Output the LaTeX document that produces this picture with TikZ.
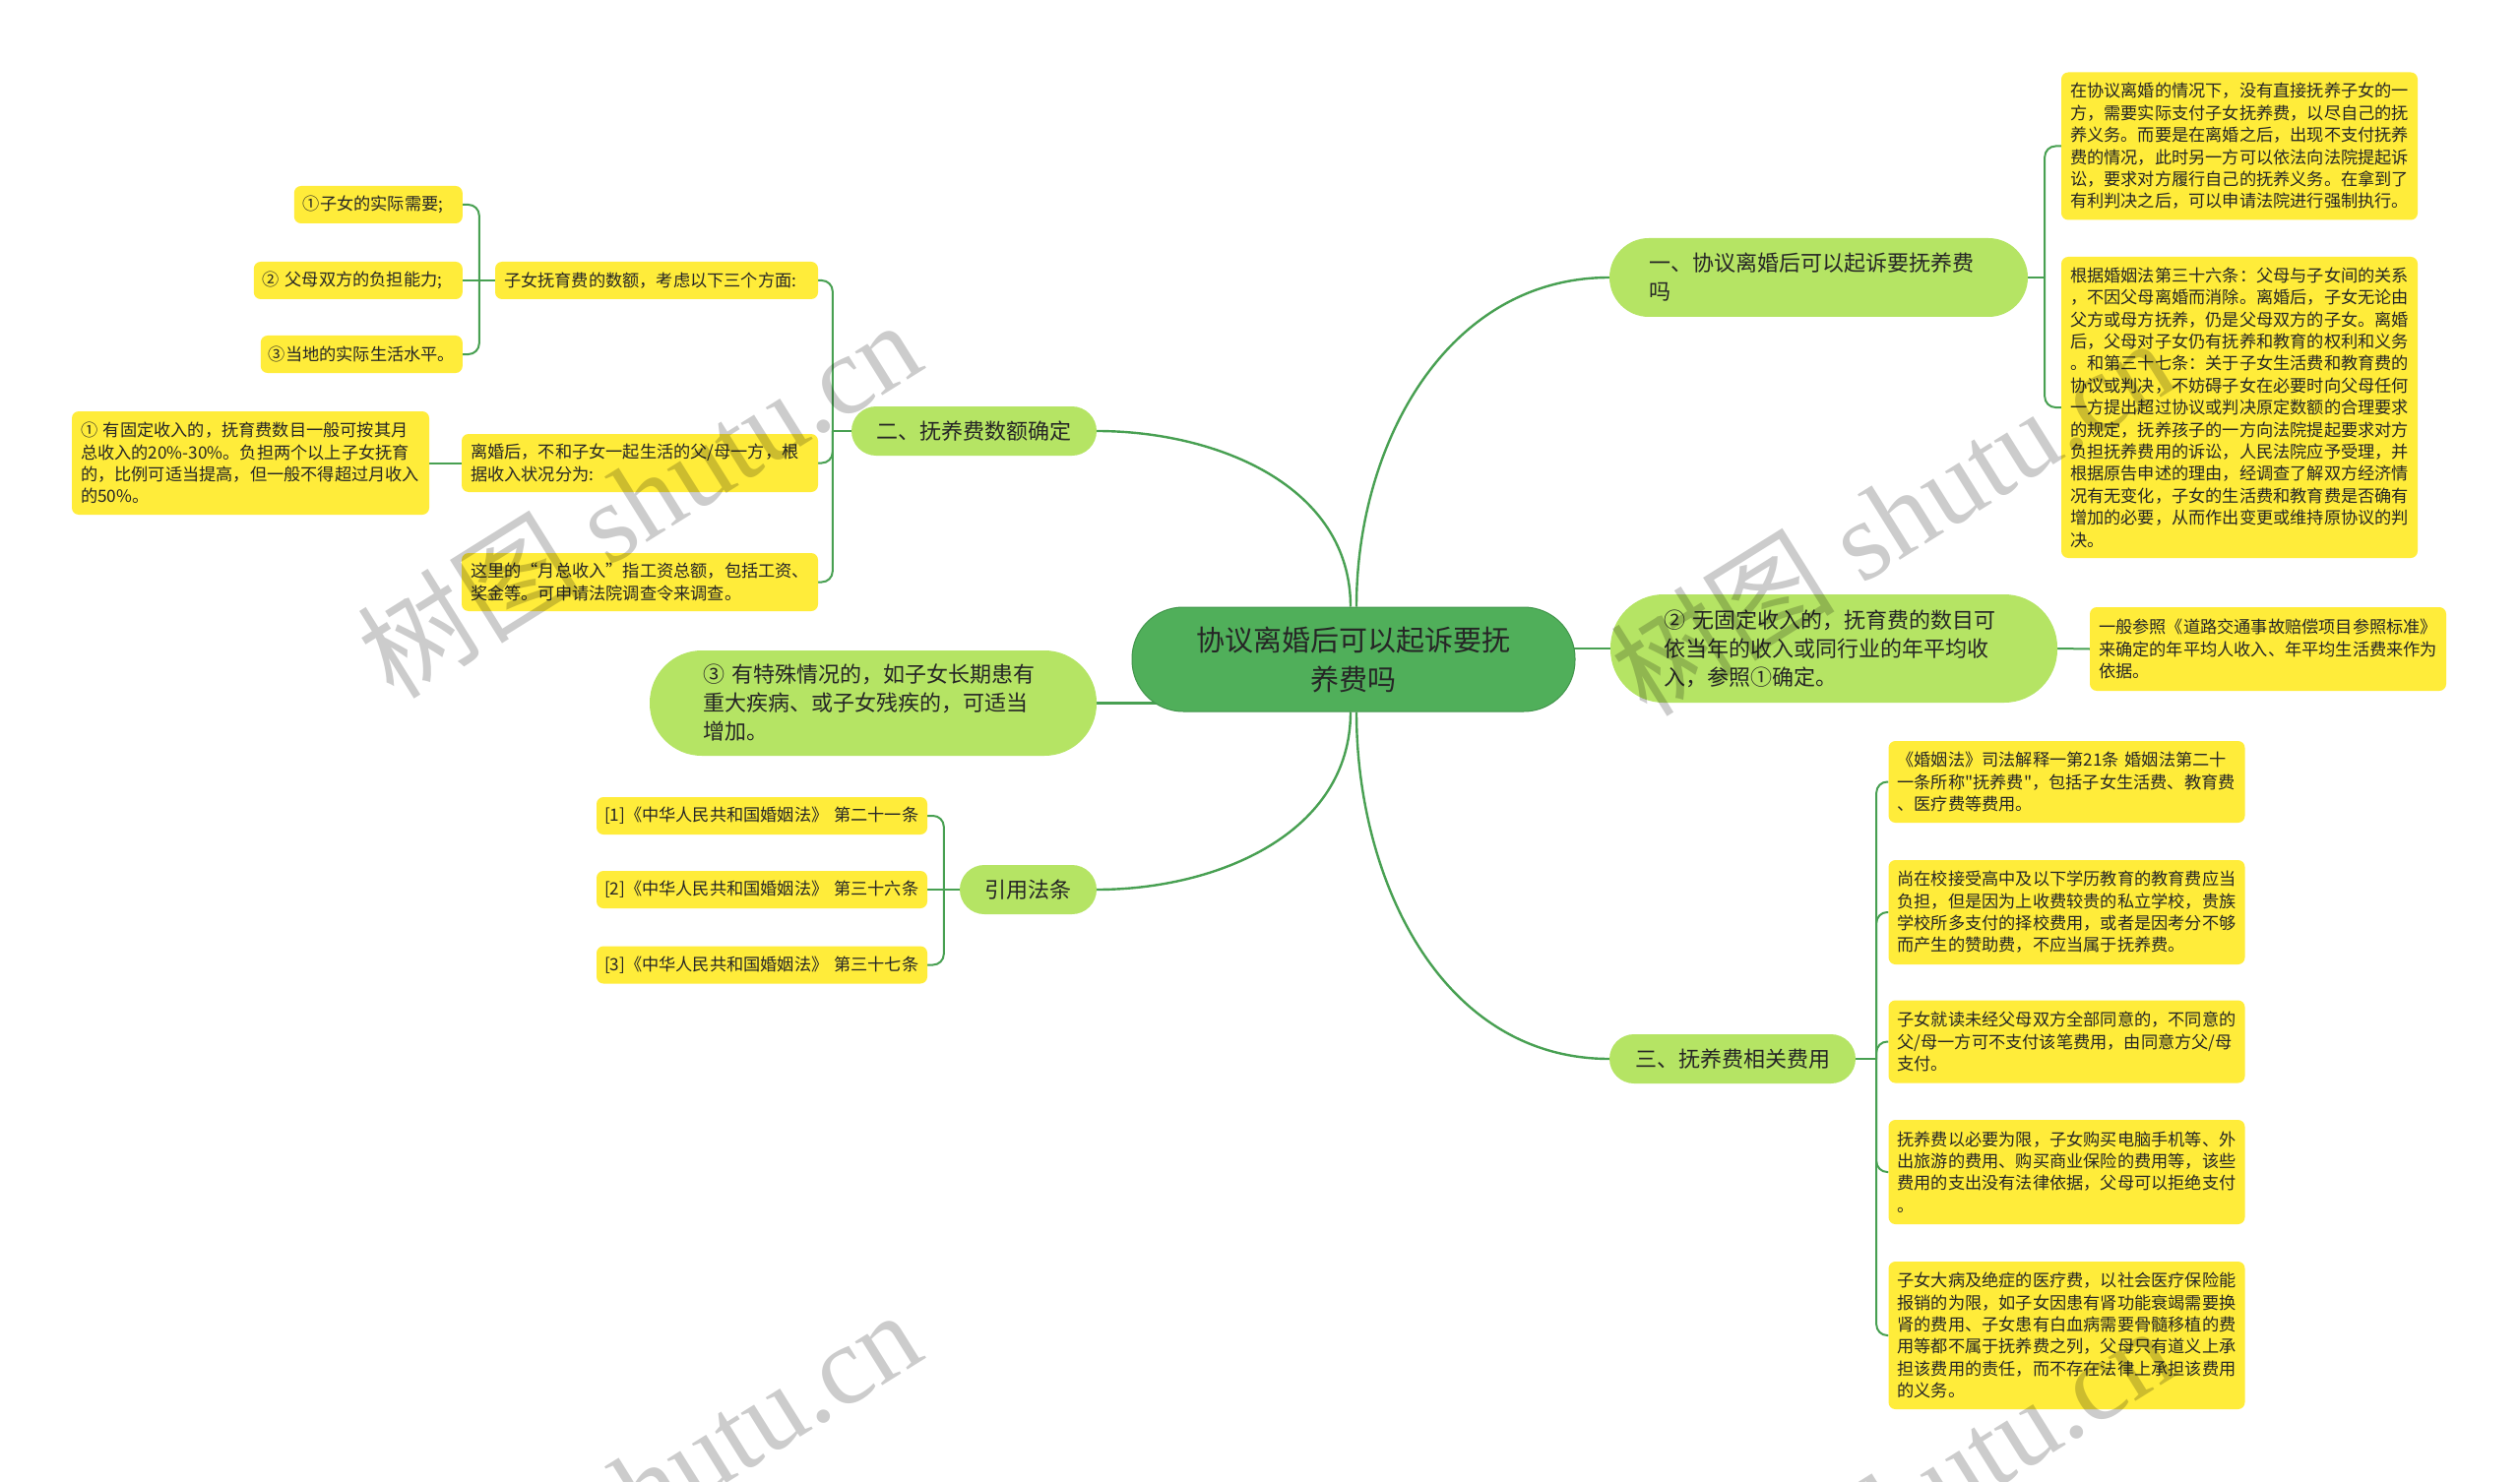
\documentclass[tikz,border=0pt]{standalone}
\usepackage{fontspec}
\newfontfamily\cjk{Noto Sans CJK SC}
\newfontfamily\wmserif{Liberation Serif}
\usetikzlibrary{backgrounds}
\definecolor{rootfill}{RGB}{80,175,90}
\definecolor{rootedge}{RGB}{66,150,76}
\definecolor{lonefill}{RGB}{181,228,100}
\definecolor{yfill}{RGB}{255,236,58}
\definecolor{linecol}{RGB}{72,160,82}
\definecolor{txtcol}{RGB}{38,38,38}
\tikzset{
  mainline/.style={draw=linecol, line width=2.4pt},
  subline/.style={draw=linecol, line width=2pt, rounded corners=11pt},
  rootbox/.style={fill=rootfill, draw=rootedge, line width=1pt, rounded corners=52pt,
    text=txtcol, font=\cjk\fontsize{29}{40}\selectfont, align=center, inner sep=0pt,
    minimum width=450pt, minimum height=106pt},
  lvbox/.style={fill=lonefill, text=txtcol, font=\cjk\fontsize{22}{29}\selectfont, inner ysep=0pt},
  ybox/.style={fill=yfill, rounded corners=7pt, text=txtcol, font=\cjk\fontsize{17.2}{22.4}\selectfont,
    align=left, inner xsep=9pt, inner ysep=0pt},
  wmark/.style={font=\wmserif\fontsize{114}{114}\selectfont, text=black, text opacity=0.2, rotate=32, inner sep=0pt}
}
\begin{document}
\begin{tikzpicture}[x=1pt,y=-1pt]
\useasboundingbox (0,0) rectangle (2560,1506);

% root
\node[rootbox, text width=340pt] (root) at (1375,670) {协议离婚后可以起诉要抚\\养费吗};

% level one
\node[lvbox, rounded corners=40pt, text width=345pt, inner xsep=40pt, minimum height=80pt, align=left] (n1) at (1847.5,282) {一、协议离婚后可以起诉要抚养费\\吗};
\node[lvbox, rounded corners=25pt, minimum width=249pt, minimum height=50pt] (n2) at (989.5,438) {二、抚养费数额确定};
\node[lvbox, rounded corners=54pt, text width=345pt, inner xsep=54.5pt, minimum height=110pt, align=left] (n2b) at (1863,659) {② 无固定收入的，抚育费的数目可\\依当年的收入或同行业的年平均收\\入，参照①确定。};
\node[lvbox, rounded corners=53pt, text width=345pt, inner xsep=54.5pt, minimum height=107pt, align=left] (n3b) at (887,714.5) {③ 有特殊情况的，如子女长期患有\\重大疾病、或子女残疾的，可适当\\增加。};
\node[lvbox, rounded corners=25pt, minimum width=139pt, minimum height=50pt] (n4) at (1044.5,904) {引用法条};
\node[lvbox, rounded corners=25pt, minimum width=250pt, minimum height=50pt] (n5) at (1760,1076) {三、抚养费相关费用};

% right yellow boxes
\node[ybox, text width=344pt, minimum height=150pt] (r1) at (2275,148.5) {在协议离婚的情况下，没有直接抚养子女的一\\方，需要实际支付子女抚养费，以尽自己的抚\\养义务。而要是在离婚之后，出现不支付抚养\\费的情况，此时另一方可以依法向法院提起诉\\讼，要求对方履行自己的抚养义务。在拿到了\\有利判决之后，可以申请法院进行强制执行。};
\node[ybox, text width=344pt, minimum height=306pt] (r2) at (2275,414) {根据婚姻法第三十六条：父母与子女间的关系\\，不因父母离婚而消除。离婚后，子女无论由\\父方或母方抚养，仍是父母双方的子女。离婚\\后，父母对子女仍有抚养和教育的权利和义务\\。和第三十七条：关于子女生活费和教育费的\\协议或判决，不妨碍子女在必要时向父母任何\\一方提出超过协议或判决原定数额的合理要求\\的规定，抚养孩子的一方向法院提起要求对方\\负担抚养费用的诉讼，人民法院应予受理，并\\根据原告申述的理由，经调查了解双方经济情\\况有无变化，子女的生活费和教育费是否确有\\增加的必要，从而作出变更或维持原协议的判\\决。};
\node[ybox, text width=344pt, minimum height=85pt] (r3) at (2304,659.5) {一般参照《道路交通事故赔偿项目参照标准》\\来确定的年平均人收入、年平均生活费来作为\\依据。};
\node[ybox, text width=344pt, minimum height=83pt] (ea) at (2099.5,794.5) {《婚姻法》司法解释一第21条 婚姻法第二十\\一条所称"抚养费"，包括子女生活费、教育费\\、医疗费等费用。};
\node[ybox, text width=344pt, minimum height=106pt] (eb) at (2099.5,927) {尚在校接受高中及以下学历教育的教育费应当\\负担，但是因为上收费较贵的私立学校，贵族\\学校所多支付的择校费用，或者是因考分不够\\而产生的赞助费，不应当属于抚养费。};
\node[ybox, text width=344pt, minimum height=84pt] (ec) at (2099.5,1058.5) {子女就读未经父母双方全部同意的，不同意的\\父/母一方可不支付该笔费用，由同意方父/母\\支付。};
\node[ybox, text width=344pt, minimum height=106pt] (ed) at (2099.5,1191) {抚养费以必要为限，子女购买电脑手机等、外\\出旅游的费用、购买商业保险的费用等，该些\\费用的支出没有法律依据，父母可以拒绝支付\\。};
\node[ybox, text width=344pt, minimum height=150pt] (ee) at (2099.5,1357) {子女大病及绝症的医疗费，以社会医疗保险能\\报销的为限，如子女因患有肾功能衰竭需要换\\肾的费用、子女患有白血病需要骨髓移植的费\\用等都不属于抚养费之列，父母只有道义上承\\担该费用的责任，而不存在法律上承担该费用\\的义务。};

% left yellow boxes
\node[ybox, text width=153pt, minimum height=38pt, anchor=east] (k1) at (470,208) {①子女的实际需要;};
\node[ybox, text width=194pt, minimum height=38pt, anchor=east] (k2) at (470,285) {② 父母双方的负担能力;};
\node[ybox, text width=189pt, inner xsep=8pt, minimum height=38pt, anchor=east] (k3) at (470,360) {③当地的实际生活水平。};
\node[ybox, text width=310pt, minimum height=38pt] (k0) at (667,285) {子女抚育费的数额，考虑以下三个方面:};
\node[ybox, text width=344pt, minimum height=59pt] (m1) at (650,470.5) {离婚后，不和子女一起生活的父/母一方，根\\据收入状况分为:};
\node[ybox, text width=345pt, minimum height=105pt] (m2) at (254.5,470.5) {① 有固定收入的，抚育费数目一般可按其月\\总收入的20\%-30\%。负担两个以上子女抚育\\的，比例可适当提高，但一般不得超过月收入\\的50\%。};
\node[ybox, text width=344pt, minimum height=59pt] (m3) at (650,591.5) {这里的“月总收入”指工资总额，包括工资、\\奖金等。可申请法院调查令来调查。};
\node[ybox, text width=320pt, inner xsep=8pt, minimum height=38pt] (c1) at (774,829) {[1]《中华人民共和国婚姻法》 第二十一条};
\node[ybox, text width=320pt, inner xsep=8pt, minimum height=38pt] (c2) at (774,904) {[2]《中华人民共和国婚姻法》 第三十六条};
\node[ybox, text width=320pt, inner xsep=8pt, minimum height=38pt] (c3) at (774,980.5) {[3]《中华人民共和国婚姻法》 第三十七条};

% connectors
\begin{pgfonlayer}{background}
\fill[white] (0,0) rectangle (2560,1506);
\draw[mainline] ([xshift=3pt]root.north) to[out=90,in=180] (n1.west);
\draw[mainline] ([xshift=-3pt]root.north) to[out=90,in=0] (n2.east);
\draw[mainline] (root.center |- n2b.west) -- (n2b.west);
\draw[mainline] (root.center |- n3b.east) -- (n3b.east);
\draw[mainline] ([xshift=-3pt]root.south) to[out=-90,in=0] (n4.east);
\draw[mainline] ([xshift=3pt]root.south) to[out=-90,in=180] (n5.west);

\coordinate (s2) at ([xshift=-19pt]n2.west);
\draw[subline] (n2.west) -- (s2);
\draw[subline] (s2) |- (k0.east);
\draw[subline] (s2) |- (m1.east);
\draw[subline] (s2) |- (m3.east);

\coordinate (s1) at ([xshift=-16pt]k0.west);
\draw[subline] (k0.west) -- (s1);
\draw[subline] (s1) |- (k1.east);
\draw[subline] (s1) -- (k2.east);
\draw[subline] (s1) |- (k3.east);

\draw[subline] (m1.west) -- (m2.east);

\coordinate (s4) at ([xshift=-16pt]n4.west);
\draw[subline] (n4.west) -- (s4);
\draw[subline] (s4) |- (c1.east);
\draw[subline] (s4) -- (c2.east);
\draw[subline] (s4) |- (c3.east);

\coordinate (s5) at ([xshift=17pt]n1.east);
\draw[subline] (n1.east) -- (s5);
\draw[subline] (s5) |- (r1.west);
\draw[subline] (s5) |- (r2.west);

\draw[subline] (n2b.east) -- (r3.west);

\coordinate (s6) at ([xshift=21pt]n5.east);
\draw[subline] (n5.east) -- (s6);
\draw[subline] (s6) |- (ea.west);
\draw[subline] (s6) |- (eb.west);
\draw[subline] (s6) |- (ec.west);
\draw[subline] (s6) |- (ed.west);
\draw[subline] (s6) |- (ee.west);
\end{pgfonlayer}

% watermarks
\node[wmark] (wm1) at (649,506) {{\cjk 树图} shutu.cn};
\node[wmark] (wm2) at (1922,524) {{\cjk 树图} shutu.cn};
\node[wmark] (wm3) at (649,1512) {{\cjk 树图} shutu.cn};
\node[wmark] (wm4) at (1922,1528) {{\cjk 树图} shutu.cn};
\end{tikzpicture}
\end{document}
